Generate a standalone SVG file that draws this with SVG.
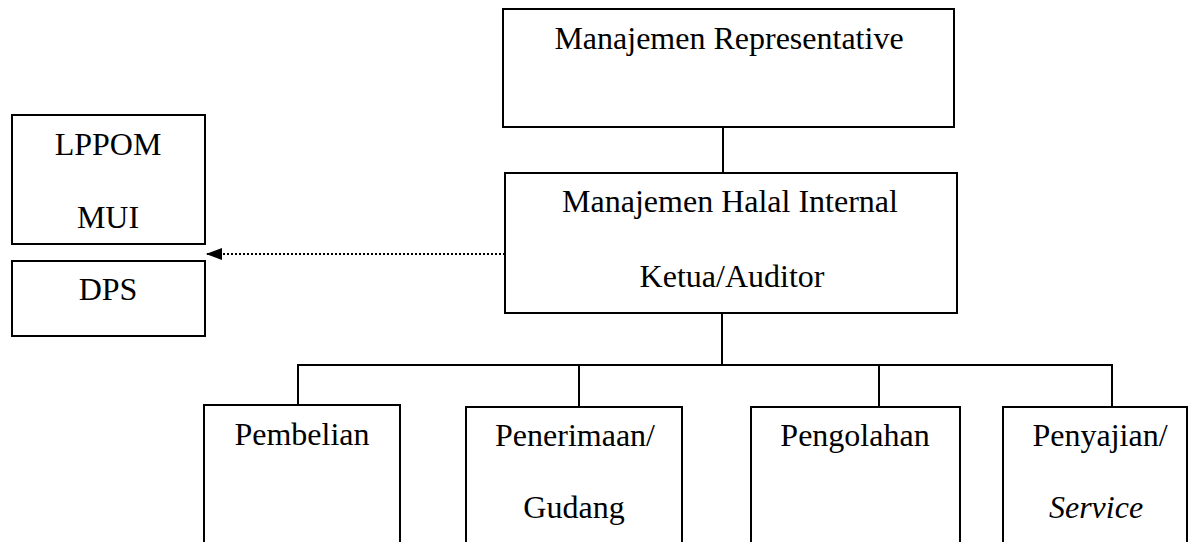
<svg xmlns="http://www.w3.org/2000/svg" width="1192" height="542" viewBox="0 0 1192 542">
<style>
.box{fill:#fff;stroke:#000;stroke-width:2}
.t{font-family:"Liberation Serif","Times New Roman",serif;font-size:32px;fill:#000;text-anchor:middle}
.ln{stroke:#000;stroke-width:2;fill:none}
.dot{stroke:#000;stroke-width:2;fill:none;stroke-dasharray:2 2}
</style>
<defs>
<marker id="ah" markerWidth="16" markerHeight="12" refX="16" refY="6" orient="auto" markerUnits="userSpaceOnUse">
<path d="M0,0 L16,6 L0,12 Z" fill="#000"/>
</marker>
</defs>
<rect width="1192" height="542" fill="#fff"/>
<g id="connectors">
<line class="ln" x1="723" y1="127" x2="723" y2="173"/>
<line class="ln" x1="722" y1="313" x2="722" y2="365"/>
<line class="ln" x1="297" y1="365" x2="1113" y2="365"/>
<line class="ln" x1="298" y1="365" x2="298" y2="405"/>
<line class="ln" x1="579" y1="365" x2="579" y2="407"/>
<line class="ln" x1="879" y1="365" x2="879" y2="407"/>
<line class="ln" x1="1112" y1="365" x2="1112" y2="407"/>
<line class="dot" x1="505" y1="254" x2="206" y2="254" marker-end="url(#ah)"/>
</g>
<g id="manajemen-representative">
<rect class="box" x="503" y="9" width="451" height="118"/>
<text class="t" x="729" y="49">Manajemen Representative</text>
</g>
<g id="manajemen-halal-internal">
<rect class="box" x="505" y="173" width="452" height="140"/>
<text class="t" x="730" y="212">Manajemen Halal Internal</text>
<text class="t" x="732" y="287">Ketua/Auditor</text>
</g>
<g id="lppom-mui">
<rect class="box" x="12" y="115" width="193" height="129"/>
<text class="t" x="108" y="155">LPPOM</text>
<text class="t" x="108" y="228">MUI</text>
</g>
<g id="dps">
<rect class="box" x="12" y="261" width="193" height="75"/>
<text class="t" x="108" y="300">DPS</text>
</g>
<g id="pembelian">
<rect class="box" x="204" y="405" width="196" height="150"/>
<text class="t" x="302" y="445">Pembelian</text>
</g>
<g id="penerimaan">
<rect class="box" x="466" y="407" width="216" height="150"/>
<text class="t" x="575" y="446">Penerimaan/</text>
<text class="t" x="574" y="518">Gudang</text>
</g>
<g id="pengolahan">
<rect class="box" x="751" y="407" width="209" height="150"/>
<text class="t" x="855" y="446">Pengolahan</text>
</g>
<g id="penyajian">
<rect class="box" x="1003" y="407" width="184" height="150"/>
<text class="t" x="1100" y="446">Penyajian/</text>
<text class="t" x="1096" y="518" font-style="italic">Service</text>
</g>
</svg>
